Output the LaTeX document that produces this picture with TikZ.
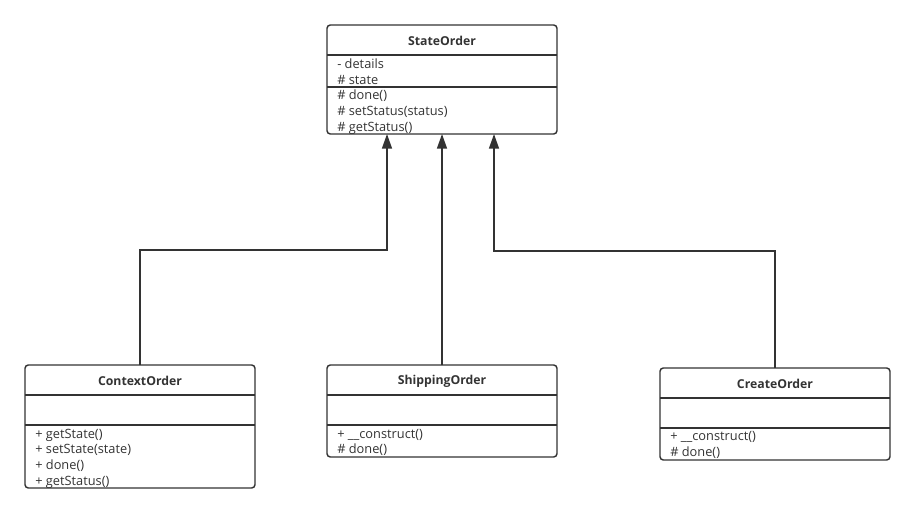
\documentclass[tikz,border=0pt]{standalone}
\usepackage{fontspec}
\setmainfont{Open Sans}
\usetikzlibrary{arrows.meta}
\definecolor{ink}{HTML}{333333}
\begin{document}
\begin{tikzpicture}[x=0.75pt,y=-0.75pt,
  classbox/.style={draw=ink, line width=1.1pt, rounded corners=2.5pt,
    inner sep=0pt, outer sep=0pt, anchor=north west, minimum width=172.5pt},
  classname/.style={font=\fontsize{9.2}{11}\selectfont\bfseries, text=ink, inner sep=0pt},
  member/.style={font=\fontsize{9.6}{10}\selectfont, text=ink, anchor=west, inner sep=0pt},
  divider/.style={draw=ink, line width=1.1pt},
  inherit/.style={draw=ink, line width=1.1pt, -{Triangle[length=11pt, width=7.5pt]}}]
\useasboundingbox (0,0) rectangle (915,514);

% --- StateOrder ---
\node[classbox, minimum height=81.75pt] (state) at (327,25) {};
\draw[divider] (327,55) -- (557,55);
\draw[divider] (327,87) -- (557,87);
\node[classname] (stateT) at (442,41) {StateOrder};
\node[member] (stateA1) at (337,64) {- details};
\node[member] (stateA2) at (337,80) {\# state};
\node[member] (stateM1) at (337,96) {\# done()};
\node[member] (stateM2) at (337,112) {\# setStatus(status)};
\node[member] (stateM3) at (337,128) {\# getStatus()};

% --- ContextOrder ---
\node[classbox, minimum height=92.25pt] (context) at (25,365) {};
\draw[divider] (25,395) -- (255,395);
\draw[divider] (25,425) -- (255,425);
\node[classname] (contextT) at (140,381) {ContextOrder};
\node[member] (contextM1) at (35,435) {+ getState()};
\node[member] (contextM2) at (35,450) {+ setState(state)};
\node[member] (contextM3) at (35,466) {+ done()};
\node[member] (contextM4) at (35,482) {+ getStatus()};

% --- ShippingOrder ---
\node[classbox, minimum height=69pt] (ship) at (327,365) {};
\draw[divider] (327,395) -- (557,395);
\draw[divider] (327,425) -- (557,425);
\node[classname] (shipT) at (442,381) {ShippingOrder};
\node[member] (shipM1) at (337,435) {+ \_\_construct()};
\node[member] (shipM2) at (337,450) {\# done()};

% --- CreateOrder ---
\node[classbox, minimum height=69pt] (create) at (660,368) {};
\draw[divider] (660,398) -- (890,398);
\draw[divider] (660,428) -- (890,428);
\node[classname] (createT) at (775,384) {CreateOrder};
\node[member] (createM1) at (670,437) {+ \_\_construct()};
\node[member] (createM2) at (670,453) {\# done()};

% --- inheritance connectors ---
\coordinate (bendL) at (387,250);
\coordinate (tipL) at (387,134);
\coordinate (bendR) at (494,251);
\coordinate (tipR) at (494,134);
\draw[inherit] (context.north) |- (bendL) -- (tipL);
\draw[inherit] (ship.north) -- (ship.north |- state.south);
\draw[inherit] (create.north) |- (bendR) -- (tipR);
\end{tikzpicture}
\end{document}
